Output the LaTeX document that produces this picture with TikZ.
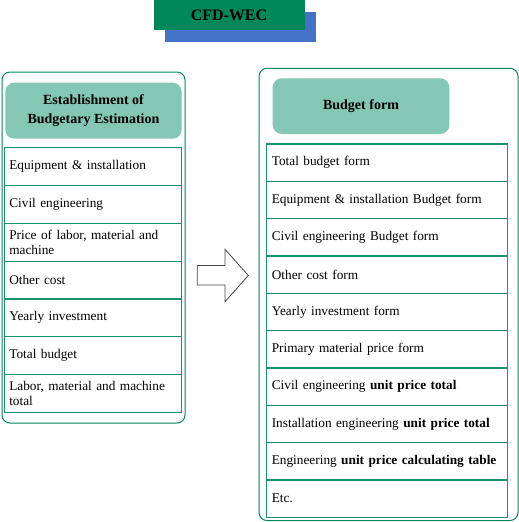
\documentclass[tikz,border=0pt]{standalone}
\usepackage{fontspec}
\setmainfont{Liberation Serif}
\usepackage{xcolor}
\usetikzlibrary{positioning}
\definecolor{wecgreen}{RGB}{0,135,90}
\definecolor{wecblue}{RGB}{68,114,196}
\definecolor{headfill}{RGB}{132,199,180}
\definecolor{rowline}{RGB}{30,145,105}
\definecolor{arrowgray}{RGB}{70,70,70}
\tikzset{
  outerbox/.style={draw=wecgreen, line width=1pt, rounded corners=8pt},
  headbox/.style={fill=headfill, rounded corners=9pt, inner sep=0pt, outer sep=0pt,
    anchor=north west, align=center, font=\fontsize{14}{18.3}\selectfont\bfseries},
  leftrow/.style={draw=rowline, line width=1.2pt, inner xsep=5pt, inner ysep=0pt,
    outer sep=0pt, text width=167pt, minimum height=37.8pt, align=left,
    font=\fontsize{13.3}{15.3}\selectfont},
  rightrow/.style={leftrow, inner xsep=5.5pt, text width=230pt, minimum height=37.33pt}
}
\begin{document}
\begin{tikzpicture}[x=1pt,y=-1pt]
\useasboundingbox (0,0) rectangle (519,522);
%title
\node[fill=wecblue, anchor=north west, inner sep=0pt, minimum width=150.7pt, minimum height=30pt] (shadow) at (165,11.7) {};
\node[fill=wecgreen, anchor=north west, inner sep=0pt, minimum width=151pt, minimum height=30pt,
  font=\fontsize{16}{18}\selectfont\bfseries] (title) at (153.3,0) {CFD-WEC};
%left block
\draw[outerbox] (2,72) rectangle (185,423);
\node[headbox, minimum width=176.4pt, minimum height=56pt] (esthead) at (5.3,82.7) {Establishment of\\Budgetary Estimation};
\node[leftrow, anchor=north west] (equip) at (4.3,147.7) {Equipment \& installation};
\node[leftrow, below=0pt of equip] (civil) {Civil engineering};
\node[leftrow, below=0pt of civil] (price) {Price of labor, material and\\machine};
\node[leftrow, below=0pt of price] (other) {Other cost};
\node[leftrow, below=0pt of other] (yearly) {Yearly investment};
\node[leftrow, below=0pt of yearly] (total) {Total budget};
\node[leftrow, below=0pt of total] (labor) {Labor, material and machine\\total};
%arrow
\draw[arrowgray, fill=white, line width=0.8pt, line join=miter]
  (197.3,265.5) -- (225,265.5) -- (225,249.3) -- (248.3,275.5) -- (225,301.7) -- (225,285) -- (197.3,285) -- cycle;
%right block
\draw[outerbox] (259,68.3) rectangle (518,520.5);
\node[headbox, minimum width=176.6pt, minimum height=55.7pt] (formhead) at (272.7,78.3) {Budget form};
\node[rightrow, anchor=north west] (totalform) at (266.3,144) {Total budget form};
\node[rightrow, below=0pt of totalform] (equipform) {Equipment \& installation Budget form};
\node[rightrow, below=0pt of equipform] (civilform) {Civil engineering Budget form};
\node[rightrow, below=0pt of civilform] (otherform) {Other cost form};
\node[rightrow, below=0pt of otherform] (yearlyform) {Yearly investment form};
\node[rightrow, below=0pt of yearlyform] (primaryform) {Primary material price form};
\node[rightrow, below=0pt of primaryform] (civilunit) {Civil engineering \textbf{unit price total}};
\node[rightrow, below=0pt of civilunit] (instunit) {Installation engineering \textbf{unit price total}};
\node[rightrow, below=0pt of instunit] (engtable) {Engineering \textbf{unit price calculating table}};
\node[rightrow, below=0pt of engtable] (etc) {Etc.};
\end{tikzpicture}
\end{document}
